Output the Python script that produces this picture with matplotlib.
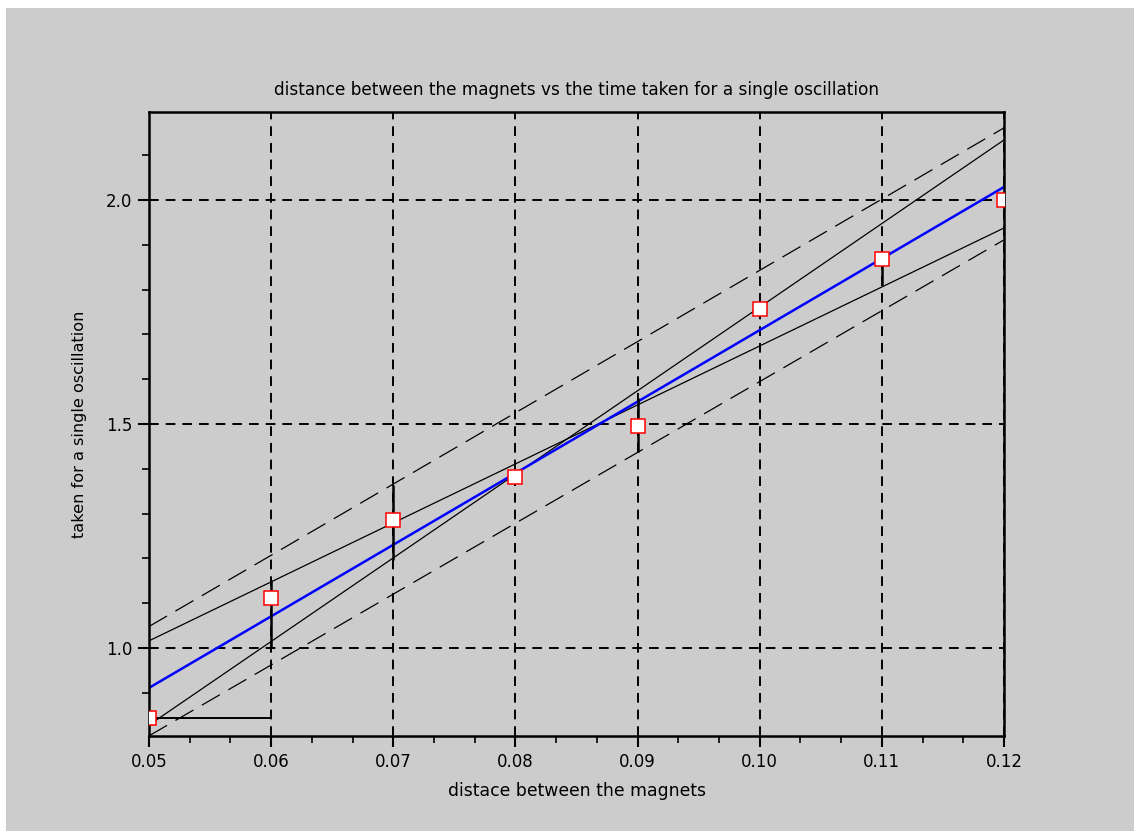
import matplotlib
matplotlib.use("Agg")
import matplotlib.pyplot as plt
from matplotlib.patches import Rectangle
from matplotlib.ticker import MultipleLocator, FixedLocator, FormatStrFormatter

plt.rcParams['lines.scale_dashes'] = False
plt.rcParams['font.family'] = ['DejaVu Sans']

# data
distance = [0.05, 0.06, 0.07, 0.08, 0.09, 0.10, 0.11, 0.12]
period = [0.844, 1.112, 1.286, 1.382, 1.496, 1.757, 1.868, 2.0]

# vertical error bars (x, low, high)
bar_x = [0.06, 0.07, 0.09, 0.11]
bar_lo = [1.0, 1.196, 1.438, 1.81]
bar_hi = [1.152, 1.364, 1.558, 1.885]

# horizontal error bar at the first point
hbar_x = [0.05, 0.06]
hbar_y = [0.844, 0.844]

# lines, values at x = 0.05 and x = 0.12
ends_x = [0.05, 0.12]
best_fit = [0.911, 2.029]
max_slope = [0.828, 2.134]
min_slope = [1.016, 1.9375]
upper_band = [1.048, 2.161]
lower_band = [0.804, 1.911]

gray = "#cccccc"

fig = plt.figure(figsize=(11.34, 8.31), dpi=100, facecolor="white")
fig.patches.append(Rectangle((6 / 1134, 0), 1, 1 - 8 / 831, transform=fig.transFigure,
                             facecolor=gray, edgecolor="none", zorder=-10))

ax = fig.add_axes([149 / 1134, 1 - 736 / 831, (1004 - 149) / 1134, (736 - 112) / 831])
ax.set_facecolor(gray)

ax.set_xlim(0.05, 0.12)
ax.set_ylim(0.8036, 2.1964)

ax.xaxis.set_major_locator(MultipleLocator(0.01))
ax.xaxis.set_minor_locator(MultipleLocator(0.01 / 3))
ax.yaxis.set_major_locator(FixedLocator([1.0, 1.5, 2.0]))
ax.yaxis.set_minor_locator(MultipleLocator(0.1))
ax.xaxis.set_major_formatter(FormatStrFormatter("%.2f"))
ax.yaxis.set_major_formatter(FormatStrFormatter("%.1f"))

ax.tick_params(which="major", direction="out", length=8, width=1.5, labelsize=12, pad=4)
ax.tick_params(which="minor", direction="out", length=5, width=1.2)
ax.tick_params(top=False, right=False)
for s in ax.spines.values():
    s.set_linewidth(1.8)

ax.grid(True, which="major", color="black", linestyle=(0, (7, 5)), linewidth=1.4)
ax.set_axisbelow(True)

ax.plot(ends_x, upper_band, color="black", lw=0.9, linestyle=(0, (15, 7)))
ax.plot(ends_x, lower_band, color="black", lw=0.9, linestyle=(0, (15, 7)))
ax.plot(ends_x, max_slope, color="black", lw=0.9)
ax.plot(ends_x, min_slope, color="black", lw=0.9)
ax.plot(ends_x, best_fit, color="#0000ff", lw=1.8)

ax.vlines(bar_x, bar_lo, bar_hi, color="black", lw=1.8)
ax.plot(hbar_x, hbar_y, color="black", lw=1.4)

ax.plot(distance, period, linestyle="none", marker="s", markersize=9.5,
        markerfacecolor="white", markeredgecolor="red", markeredgewidth=1.1, zorder=5)

ax.set_title("distance between the magnets vs the time taken for a single oscillation",
             fontsize=12.2, pad=12)
ax.set_xlabel("distace between the magnets", fontsize=12.4, labelpad=8)
ax.set_ylabel("taken for a single oscillation", fontsize=11.6, labelpad=14)

fig.savefig("out.png", dpi=100, facecolor=fig.get_facecolor())
